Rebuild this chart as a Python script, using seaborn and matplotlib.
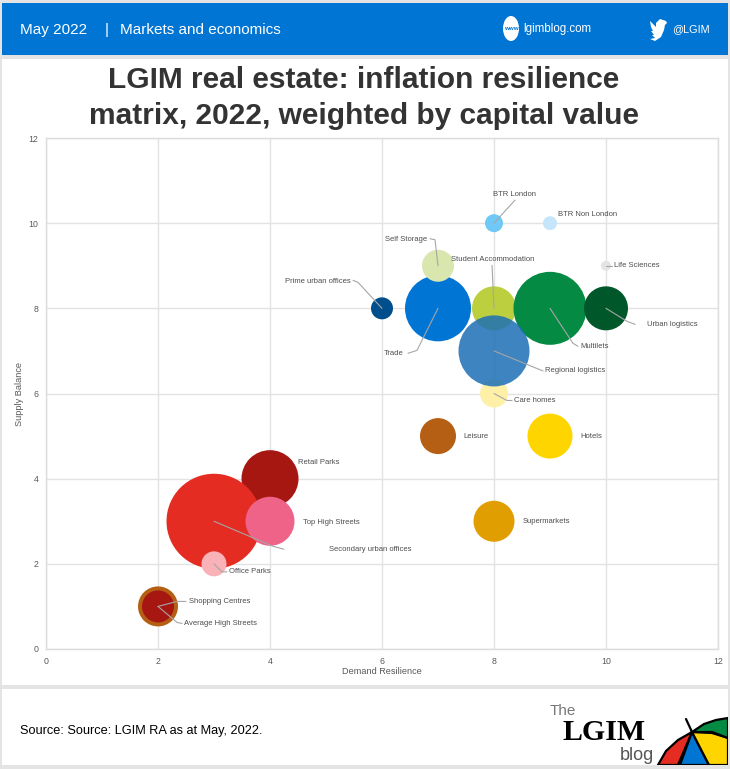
import pandas as pd
import seaborn as sns
import matplotlib.pyplot as plt
from matplotlib.patches import Rectangle, Ellipse, Polygon

# drawn back to front, same order as the overlaps in the chart
names = ['Care homes', 'Student Accommodation', 'Trade', 'Self Storage', 'Multilets',
         'Urban logistics', 'Regional logistics', 'Prime urban offices', 'BTR London',
         'BTR Non London', 'Life Sciences', 'Leisure', 'Hotels', 'Supermarkets',
         'Retail Parks', 'Secondary urban offices', 'Top High Streets', 'Office Parks',
         'Shopping Centres', 'Average High Streets']
demand = [8, 8, 7, 7, 9, 10, 8, 6, 8, 9, 10, 7, 9, 8, 4, 3, 4, 3, 2, 2]
supply = [6, 8, 8, 9, 8, 8, 7, 8, 10, 10, 9, 5, 5, 3, 4, 3, 3, 2, 1, 1]
capital = [28, 44, 66, 32, 73, 44, 71, 22, 18, 14, 10, 36, 45, 41, 57, 95, 49, 25, 40, 32]
colours = ['#fff0a8', '#bccf3f', '#0075d4', '#d9e6ae', '#058a43', '#00582a', '#1c6fb5',
           '#004f8c', '#6fc8f6', '#c5e6fa', '#e4e4e4', '#b45f14', '#ffd500', '#e09e00',
           '#a61712', '#e42c22', '#f06388', '#f8b2b8', '#b45f14', '#a61712']
ticks = [0, 2, 4, 6, 8, 10, 12]

# label offset in px from bubble centre, alignment, leader line bends in px
label_pos = {
    'BTR London': (-1, 29, 'left', [(21, 23)]),
    'BTR Non London': (8, 9, 'left', []),
    'Self Storage': (-11, 26, 'right', [(-3, 26), (-8, 27)]),
    'Student Accommodation': (-43, 49, 'left', [(-2, 43)]),
    'Life Sciences': (8, 0, 'left', [(6, 0)]),
    'Prime urban offices': (-31, 27, 'right', [(-24, 26), (-29, 28)]),
    'Trade': (-34, -45, 'right', [(-21, -42), (-30, -45)]),
    'Multilets': (30, -38, 'left', [(23, -35), (28, -38)]),
    'Urban logistics': (41, -16, 'left', [(21, -13), (29, -16)]),
    'Regional logistics': (51, -20, 'left', [(39, -16), (49, -20)]),
    'Care homes': (20, -7, 'left', [(13, -7), (18, -7)]),
    'Leisure': (25, 0, 'left', []),
    'Hotels': (30, 0, 'left', []),
    'Supermarkets': (29, 0, 'left', []),
    'Retail Parks': (28, 16, 'left', []),
    'Top High Streets': (33, -1, 'left', []),
    'Secondary urban offices': (115, -28, 'left', [(59, -25), (70, -28)]),
    'Office Parks': (15, -8, 'left', [(8, -8), (13, -8)]),
    'Shopping Centres': (31, 5, 'left', [(19, 5), (28, 5)]),
    'Average High Streets': (26, -17, 'left', [(19, -16), (24, -17)]),
}

W, H = 730, 769
grey_text = '#595959'

sns.set_theme(style='whitegrid')
plt.rcParams['font.family'] = ['Liberation Sans', 'DejaVu Sans']

fig = plt.figure(figsize=(W / 100, H / 100), dpi=100, facecolor='#e4e4e4')


def box(x0, y0, x1, y1, colour):
    fig.add_artist(Rectangle((x0 / W, 1 - y1 / H), (x1 - x0) / W, (y1 - y0) / H,
                             transform=fig.transFigure, fc=colour, ec='none', zorder=-1))


box(2, 3, 728, 55, '#0075d4')
box(2, 59, 728, 685, 'white')
box(2, 689, 728, 765, 'white')

ax = fig.add_axes([46 / W, 1 - 649 / H, 672 / W, 511 / H])
df = pd.DataFrame({'name': names, 'demand': demand, 'supply': supply, 'capital': capital})
# bubble area in points squared, 100 dpi
df['area'] = (df['capital'] * 0.72) ** 2
sns.scatterplot(data=df, x='demand', y='supply', hue='name', palette=dict(zip(names, colours)),
                size='area', sizes=(df['area'].min(), df['area'].max()),
                size_norm=(df['area'].min(), df['area'].max()),
                linewidth=0, legend=False, ax=ax, zorder=3)
# the regional logistics bubble is see-through over its neighbours
dots = ax.collections[0]
faces = dots.get_facecolors().copy()
faces[names.index('Regional logistics'), 3] = 0.85
dots.set_facecolors(faces)

ax.set_xlim(0, 12)
ax.set_ylim(0, 12)
ax.set_xticks(ticks)
ax.set_yticks(ticks)
ax.set_xlabel('Demand Resilience', fontsize=6.6, color=grey_text, labelpad=1)
ax.set_ylabel('Supply Balance', fontsize=6.6, color=grey_text, labelpad=3)
ax.tick_params(labelsize=6.3, color='#cfcfcf', labelcolor=grey_text, pad=3, length=2.5, width=0.7)
ax.grid(True, color='#e2e2e2', linewidth=1.0)
ax.set_axisbelow(True)
for side in ax.spines.values():
    side.set_color('#dcdcdc')
    side.set_linewidth(1.0)

for i, row in df.iterrows():
    dx, dy, ha, bends = label_pos[row['name']]
    ax.annotate(row['name'], (row['demand'], row['supply']), xytext=(dx, dy),
                textcoords='offset pixels', ha=ha, va='center', fontsize=5.5,
                color='#4d4d4d', zorder=6)
    if bends:
        cx, cy = ax.transData.transform((row['demand'], row['supply']))
        line_x = [cx] + [cx + b[0] for b in bends]
        line_y = [cy] + [cy + b[1] for b in bends]
        ax.plot(line_x, line_y, transform=None, color='#a6a6a6', linewidth=0.8, zorder=5)

# header
fig.text(20 / W, 1 - 30 / H, 'May 2022', color='white', fontsize=11, va='center')
fig.text(105 / W, 1 - 30 / H, '|', color='white', fontsize=11, va='center')
fig.text(120 / W, 1 - 30 / H, 'Markets and economics', color='white', fontsize=11, va='center')
fig.text(523 / W, 1 - 29 / H, 'lgimblog.com', color='white', fontsize=8.3, va='center')
fig.text(672 / W, 1 - 29 / H, '@LGIM', color='white', fontsize=7.8, va='center')
fig.add_artist(Ellipse((511 / W, 1 - 28.5 / H), 16 / W, 25 / H, transform=fig.transFigure, fc='white', ec='none'))
fig.text(511 / W, 1 - 28 / H, 'www', color='#0075d4', fontsize=4.5, ha='center', va='center', fontweight='bold')
bird = [(666, 21), (660, 19), (656, 23), (656, 27), (650, 21), (651, 27), (653, 31), (651, 31), (654, 35),
        (652, 35), (655, 38), (650, 39), (655, 41), (661, 37), (664, 30), (665, 25), (667, 23)]
fig.add_artist(Polygon([(x / W, 1 - y / H) for x, y in bird], transform=fig.transFigure, fc='white', ec='none'))

# title and source
fig.text(364 / W, 1 - 80 / H, 'LGIM real estate: inflation resilience', fontsize=21.5, fontweight='bold',
         color='#333333', ha='center', va='center')
fig.text(364 / W, 1 - 116 / H, 'matrix, 2022, weighted by capital value', fontsize=21.5, fontweight='bold',
         color='#333333', ha='center', va='center')
fig.text(20 / W, 1 - 731 / H, 'Source: Source: LGIM RA as at May, 2022.', fontsize=9.2, color='black', va='center')

# logo
fig.text(550 / W, 1 - 711 / H, 'The', fontsize=11, color='#777777', va='center')
fig.text(604 / W, 1 - 733 / H, 'LGIM', fontsize=21.5, color='black', ha='center', va='center', fontweight='bold',
         family='Liberation Serif')
fig.text(620 / W, 1 - 755 / H, 'blog', fontsize=13, color='#555555', va='center')

logo = fig.add_axes([0, 0, 1, 1], facecolor='none')
logo.set_xlim(0, W)
logo.set_ylim(H, 0)
logo.axis('off')
apex = (692, 732)
panels = [
    ([apex, (678, 765), (658, 765), (666, 751), (678, 740)], '#e42c22'),
    ([apex, (709, 765), (680, 765)], '#0075d4'),
    ([apex, (712, 733), (728, 738), (728, 765), (709, 765)], '#ffd500'),
    ([apex, (704, 724), (716, 720), (728, 718), (728, 738), (712, 732)], '#058a43'),
]
for points, colour in panels:
    logo.add_patch(Polygon(points, closed=True, fc=colour, ec='black', lw=1.6))
logo.plot([686, 692], [719, 732], color='black', lw=1.6)
logo.add_patch(Rectangle((0, 765), W, 4, fc='#e4e4e4', ec='none', zorder=5))
logo.add_patch(Rectangle((728, 660), 2, 109, fc='#e4e4e4', ec='none', zorder=5))

fig.savefig('out.png', dpi=100, facecolor=fig.get_facecolor())
